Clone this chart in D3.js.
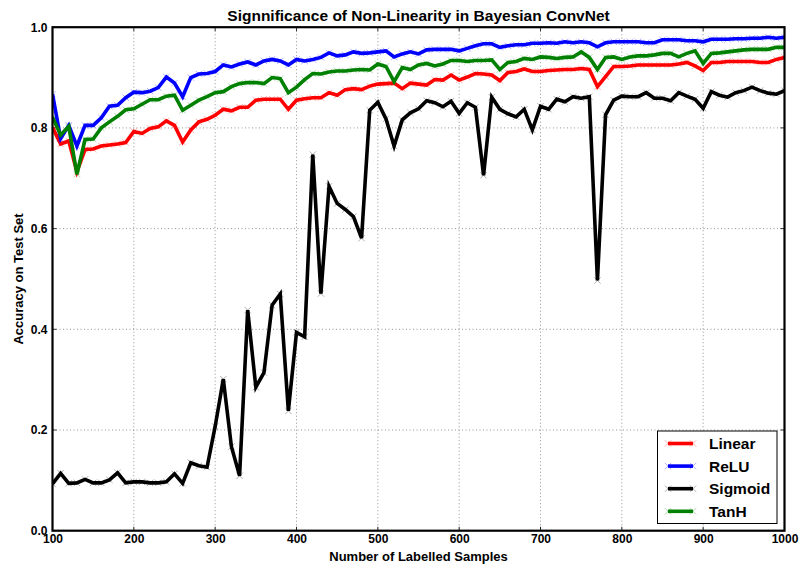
<!DOCTYPE html>
<html>
<head>
<meta charset="utf-8">
<script src="https://cdn.jsdelivr.net/npm/d3@7"></script>
<style>
  html, body { margin: 0; padding: 0; background: #fff; }
  svg { display: block; font-family: "Liberation Sans", Arial, Helvetica, sans-serif; }
  .tick-label { font-size: 12px; font-weight: bold; fill: #000; }
</style>
</head>
<body>
<svg id="chart" width="800" height="566"></svg>
<script>
// Number of labelled training samples
const samples = [100, 110, 120, 130, 140, 150, 160, 170, 180, 190,
  200, 210, 220, 230, 240, 250, 260, 270, 280, 290,
  300, 310, 320, 330, 340, 350, 360, 370, 380, 390,
  400, 410, 420, 430, 440, 450, 460, 470, 480, 490,
  500, 510, 520, 530, 540, 550, 560, 570, 580, 590,
  600, 610, 620, 630, 640, 650, 660, 670, 680, 690,
  700, 710, 720, 730, 740, 750, 760, 770, 780, 790,
  800, 810, 820, 830, 840, 850, 860, 870, 880, 890,
  900, 910, 920, 930, 940, 950, 960, 970, 980, 990, 1000];

// Test accuracy per activation function
const linear = [0.801, 0.768, 0.774, 0.713, 0.757, 0.758, 0.764, 0.766, 0.768, 0.771,
  0.793, 0.789, 0.799, 0.802, 0.814, 0.805, 0.772, 0.796, 0.812, 0.817,
  0.825, 0.837, 0.834, 0.841, 0.841, 0.855, 0.857, 0.857, 0.857, 0.837,
  0.855, 0.858, 0.860, 0.860, 0.870, 0.865, 0.876, 0.878, 0.876, 0.883,
  0.887, 0.888, 0.889, 0.878, 0.889, 0.887, 0.885, 0.896, 0.895, 0.905,
  0.895, 0.901, 0.908, 0.907, 0.905, 0.894, 0.910, 0.912, 0.917, 0.912,
  0.912, 0.914, 0.915, 0.916, 0.916, 0.918, 0.916, 0.882, 0.902, 0.922,
  0.922, 0.923, 0.925, 0.925, 0.925, 0.925, 0.925, 0.927, 0.930, 0.923,
  0.914, 0.930, 0.930, 0.932, 0.932, 0.932, 0.932, 0.930, 0.930, 0.936, 0.940];

const relu = [0.867, 0.779, 0.805, 0.764, 0.805, 0.805, 0.820, 0.843, 0.845, 0.860,
  0.871, 0.870, 0.873, 0.880, 0.901, 0.889, 0.862, 0.900, 0.907, 0.908,
  0.912, 0.925, 0.921, 0.927, 0.931, 0.925, 0.933, 0.936, 0.933, 0.925,
  0.936, 0.933, 0.936, 0.940, 0.949, 0.943, 0.945, 0.951, 0.948, 0.949,
  0.951, 0.953, 0.941, 0.947, 0.951, 0.947, 0.955, 0.956, 0.956, 0.956,
  0.953, 0.958, 0.963, 0.967, 0.967, 0.960, 0.963, 0.965, 0.965, 0.968,
  0.968, 0.969, 0.968, 0.971, 0.969, 0.971, 0.969, 0.961, 0.969, 0.971,
  0.971, 0.971, 0.971, 0.969, 0.969, 0.975, 0.975, 0.975, 0.973, 0.973,
  0.971, 0.976, 0.976, 0.976, 0.977, 0.977, 0.978, 0.978, 0.980, 0.978, 0.980];

const sigmoid = [0.093, 0.114, 0.094, 0.095, 0.102, 0.095, 0.095, 0.101, 0.115, 0.095,
  0.097, 0.097, 0.095, 0.095, 0.097, 0.113, 0.094, 0.135, 0.129, 0.126,
  0.207, 0.301, 0.167, 0.109, 0.438, 0.285, 0.314, 0.448, 0.470, 0.238,
  0.394, 0.385, 0.747, 0.471, 0.684, 0.650, 0.638, 0.624, 0.581, 0.835,
  0.851, 0.818, 0.764, 0.816, 0.830, 0.838, 0.854, 0.850, 0.842, 0.853,
  0.829, 0.850, 0.841, 0.706, 0.861, 0.837, 0.828, 0.822, 0.837, 0.796,
  0.843, 0.837, 0.857, 0.852, 0.862, 0.859, 0.862, 0.497, 0.826, 0.855,
  0.863, 0.862, 0.862, 0.870, 0.859, 0.859, 0.854, 0.870, 0.863, 0.857,
  0.839, 0.872, 0.865, 0.861, 0.870, 0.874, 0.881, 0.874, 0.869, 0.867, 0.874];

const tanh = [0.821, 0.786, 0.803, 0.708, 0.777, 0.778, 0.800, 0.812, 0.823, 0.836,
  0.838, 0.847, 0.856, 0.856, 0.863, 0.865, 0.835, 0.845, 0.855, 0.862,
  0.870, 0.872, 0.882, 0.888, 0.890, 0.890, 0.888, 0.900, 0.898, 0.870,
  0.881, 0.896, 0.908, 0.907, 0.911, 0.913, 0.913, 0.915, 0.916, 0.915,
  0.927, 0.922, 0.892, 0.920, 0.916, 0.925, 0.928, 0.923, 0.927, 0.934,
  0.934, 0.932, 0.934, 0.934, 0.935, 0.916, 0.930, 0.932, 0.938, 0.936,
  0.941, 0.940, 0.938, 0.940, 0.941, 0.951, 0.940, 0.916, 0.940, 0.941,
  0.936, 0.941, 0.943, 0.943, 0.945, 0.948, 0.948, 0.941, 0.948, 0.953,
  0.928, 0.948, 0.949, 0.951, 0.953, 0.955, 0.956, 0.956, 0.956, 0.960, 0.960];

const seriesNames = ["Linear", "ReLU", "Sigmoid", "TanH"];
const seriesValues = [linear, relu, sigmoid, tanh];
const seriesColors = ["#ff0000", "#0000ff", "#000000", "#008000"];

const xTicks = [100, 200, 300, 400, 500, 600, 700, 800, 900, 1000];
const yTicks = [0.0, 0.2, 0.4, 0.6, 0.8, 1.0];

const titleText = "Signnificance of Non-Linearity in Bayesian ConvNet";
const xLabelText = "Number of Labelled Samples";
const yLabelText = "Accuracy on Test Set";

// ---- layout ----
const svg = d3.select("#chart");
const plot = { left: 52.5, right: 784.5, top: 27.2, bottom: 530.7 };

const x = d3.scaleLinear().domain([100, 1000]).range([plot.left, plot.right]);
const y = d3.scaleLinear().domain([0, 1]).range([plot.bottom, plot.top]);

// background
svg.append("rect").attr("width", 800).attr("height", 566).attr("fill", "#fff");

// grid
const grid = svg.append("g").attr("stroke", "#7a7a7a").attr("stroke-width", 0.8)
  .attr("stroke-dasharray", "1,2.5");
grid.selectAll(".gx").data(xTicks.slice(1, -1)).join("line")
  .attr("x1", d => x(d)).attr("x2", d => x(d))
  .attr("y1", plot.top).attr("y2", plot.bottom);
grid.selectAll(".gy").data(yTicks.slice(1, -1)).join("line")
  .attr("y1", d => y(d)).attr("y2", d => y(d))
  .attr("x1", plot.left).attr("x2", plot.right);

// ticks pointing inward on all four sides
const tickLen = 4;
const ticks = svg.append("g").attr("stroke", "#000").attr("stroke-width", 0.8);
xTicks.forEach(t => {
  ticks.append("line").attr("x1", x(t)).attr("x2", x(t))
    .attr("y1", plot.bottom).attr("y2", plot.bottom - tickLen);
  ticks.append("line").attr("x1", x(t)).attr("x2", x(t))
    .attr("y1", plot.top).attr("y2", plot.top + tickLen);
});
yTicks.forEach(t => {
  ticks.append("line").attr("y1", y(t)).attr("y2", y(t))
    .attr("x1", plot.left).attr("x2", plot.left + tickLen);
  ticks.append("line").attr("y1", y(t)).attr("y2", y(t))
    .attr("x1", plot.right).attr("x2", plot.right - tickLen);
});

// tick labels via d3 axes (lines hidden, only text used)
const xAxis = svg.append("g").attr("transform", `translate(0,${plot.bottom})`)
  .call(d3.axisBottom(x).tickValues(xTicks).tickFormat(d3.format("d")).tickSize(0).tickPadding(4));
const yAxis = svg.append("g").attr("transform", `translate(${plot.left},0)`)
  .call(d3.axisLeft(y).tickValues(yTicks).tickFormat(d3.format(".1f")).tickSize(0).tickPadding(5));
[xAxis, yAxis].forEach(a => {
  a.select(".domain").remove();
  a.selectAll("text").attr("class", "tick-label").attr("font-family", null).attr("font-size", null);
});
xAxis.selectAll("text").attr("dy", "0.71em");

// data lines
const clipId = "plot-clip";
svg.append("clipPath").attr("id", clipId).append("rect")
  .attr("x", plot.left).attr("y", plot.top)
  .attr("width", plot.right - plot.left).attr("height", plot.bottom - plot.top);

const lineGen = d3.line().x(d => x(d[0])).y(d => y(d[1]));
const linesG = svg.append("g").attr("clip-path", `url(#${clipId})`);
const ms = 3.2; // half-size of x markers

seriesValues.forEach((vals, i) => {
  const pts = samples.map((s, j) => [s, vals[j]]);
  linesG.append("path").datum(pts)
    .attr("d", lineGen)
    .attr("fill", "none")
    .attr("stroke", seriesColors[i])
    .attr("stroke-width", 3.6)
    .attr("stroke-linejoin", "miter")
    .attr("stroke-miterlimit", 4);
  linesG.append("g").selectAll("path").data(pts).join("path")
    .attr("d", d => {
      const cx = x(d[0]), cy = y(d[1]);
      return `M${cx - ms},${cy - ms}L${cx + ms},${cy + ms}M${cx - ms},${cy + ms}L${cx + ms},${cy - ms}`;
    })
    .attr("stroke", seriesColors[i])
    .attr("stroke-opacity", 0.45)
    .attr("stroke-width", 0.7)
    .attr("fill", "none");
});

// frame
svg.append("rect")
  .attr("x", plot.left).attr("y", plot.top)
  .attr("width", plot.right - plot.left).attr("height", plot.bottom - plot.top)
  .attr("fill", "none").attr("stroke", "#000").attr("stroke-width", 2.2);

// title and axis labels
svg.append("text").attr("x", (plot.left + plot.right) / 2).attr("y", 20.5)
  .attr("text-anchor", "middle").attr("font-size", 15.5).attr("font-weight", "bold")
  .text(titleText);
svg.append("text").attr("x", (plot.left + plot.right) / 2).attr("y", 560.5)
  .attr("text-anchor", "middle").attr("font-size", 13).attr("font-weight", "bold")
  .text(xLabelText);
svg.append("text")
  .attr("transform", `translate(23,${(plot.top + plot.bottom) / 2}) rotate(-90)`)
  .attr("text-anchor", "middle").attr("font-size", 13).attr("font-weight", "bold")
  .text(yLabelText);

// legend
const legend = { x: 657.5, y: 431, w: 119.5, h: 92.5 };
const lg = svg.append("g");
lg.append("rect").attr("x", legend.x).attr("y", legend.y)
  .attr("width", legend.w).attr("height", legend.h)
  .attr("fill", "#fff").attr("stroke", "#000").attr("stroke-width", 1);
seriesNames.forEach((name, i) => {
  const ly = legend.y + 12.5 + i * 22.6;
  const x0 = 668, x1 = 693;
  lg.append("line").attr("x1", x0).attr("x2", x1).attr("y1", ly).attr("y2", ly)
    .attr("stroke", seriesColors[i]).attr("stroke-width", 3.6);
  [x0, x1].forEach(cx => {
    lg.append("path")
      .attr("d", `M${cx - ms},${ly - ms}L${cx + ms},${ly + ms}M${cx - ms},${ly + ms}L${cx + ms},${ly - ms}`)
      .attr("stroke", seriesColors[i]).attr("stroke-opacity", 0.45).attr("stroke-width", 0.7);
  });
  lg.append("text").attr("x", 709).attr("y", ly).attr("dy", "0.36em")
    .attr("font-size", 15.5).attr("font-weight", "bold").text(name);
});
</script>
</body>
</html>
